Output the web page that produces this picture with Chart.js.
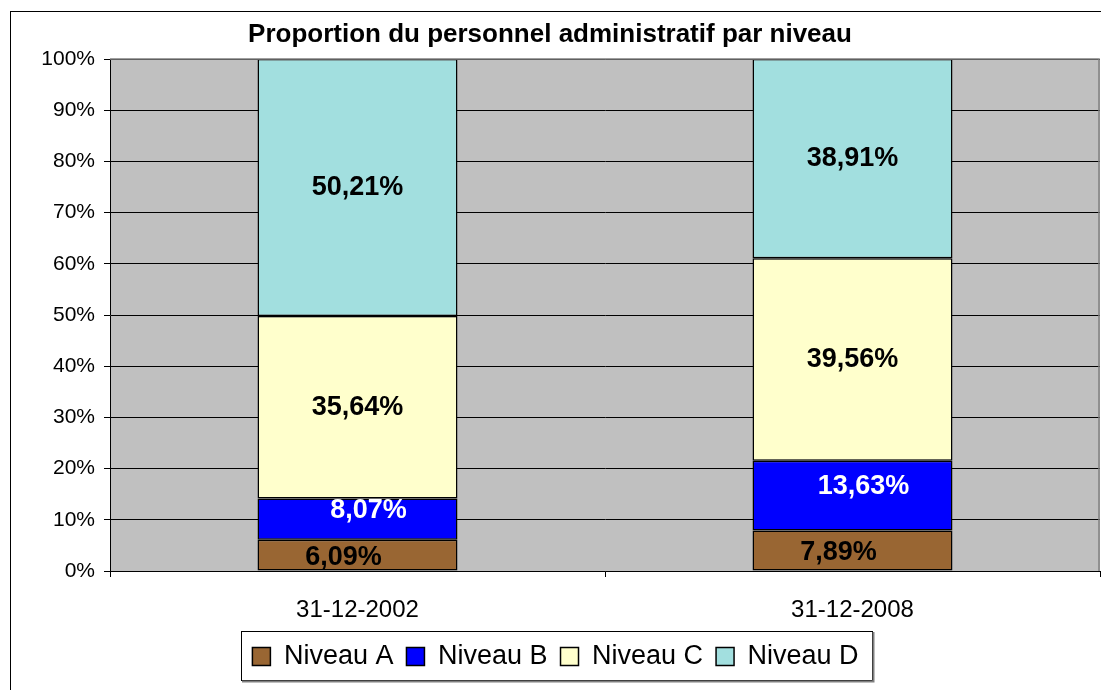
<!DOCTYPE html>
<html lang="fr">
<head>
    <meta charset="UTF-8">
    <title>Proportion du personnel administratif par niveau</title>
    <style>
        body { margin: 0; background: #fff; }
        #wrap { width: 1101px; height: 690px; }
    </style>
    <script src="https://cdn.jsdelivr.net/npm/chart.js"></script>
</head>
<body>
    <div id="wrap"><canvas id="myChart"></canvas></div>
    <script>
        // données
        const dates = ['31-12-2002', '31-12-2008'];
        const niveauA = [6.09, 7.89];
        const niveauB = [8.07, 13.63];
        const niveauC = [35.64, 39.56];
        const niveauD = [50.21, 38.91];
        const yTicks = [0, 10, 20, 30, 40, 50, 60, 70, 80, 90, 100];

        const couleurs = ['#996633', '#0000FF', '#FFFFCC', '#A2DFDF'];
        const couleursTexte = ['#000', '#fff', '#000', '#000'];
        // petit décalage des étiquettes comme dans Excel
        const decalages = [[-14, 2], [11, -9], [0, 0], [0, 0]];

        const police = 'Arial, "Liberation Sans", sans-serif';

        function fmt(v) {
            return v.toFixed(2).replace('.', ',') + '%';
        }

        const fondGris = {
            id: 'fondGris',
            afterLayout(chart) {
                // la légende est un peu décalée vers la droite dans l'original
                const lg = chart.legend;
                if (lg) { lg.left += 5.5; lg.right += 5.5; }
            },
            beforeDraw(chart) {
                const { ctx, chartArea: a } = chart;
                ctx.save();
                ctx.fillStyle = '#C0C0C0';
                ctx.fillRect(a.left, a.top, a.right - a.left, a.bottom - a.top);
                ctx.strokeStyle = '#000';
                ctx.lineWidth = 1;
                ctx.strokeRect(10.5, 11.5, chart.width + 20, chart.height + 20);
                ctx.restore();
            },
            afterDraw(chart) {
                const { ctx, chartArea: a } = chart;
                ctx.save();
                ctx.strokeStyle = '#808080';
                ctx.lineWidth = 1.5;
                ctx.beginPath();
                ctx.moveTo(a.left, a.top);
                ctx.lineTo(a.right - 1, a.top);
                ctx.lineTo(a.right - 1, a.bottom);
                ctx.stroke();

                // étiquettes de valeurs
                ctx.font = 'bold 27px ' + police;
                ctx.textAlign = 'center';
                ctx.textBaseline = 'middle';
                chart.data.datasets.forEach((ds, i) => {
                    const meta = chart.getDatasetMeta(i);
                    meta.data.forEach((bar, j) => {
                        const y = (bar.y + bar.base) / 2;
                        ctx.fillStyle = couleursTexte[i];
                        ctx.fillText(fmt(ds.data[j]), bar.x + decalages[i][0], y + decalages[i][1]);
                    });
                });

                // cadre de la légende
                const lg = chart.legend;
                if (lg && lg.lineWidths) {
                    const pad = lg.options.labels.padding;
                    const w = lg.lineWidths[0] - pad;
                    const c = (lg.left + lg.right) / 2;
                    const l = Math.round(c - w / 2 - 11);
                    const r = Math.round(c + w / 2 + 13);
                    const t = Math.round(lg.top + pad - 12);
                    const b = Math.round(lg.top + pad + 27 + 10);
                    ctx.strokeStyle = '#000';
                    ctx.lineWidth = 1;
                    ctx.strokeRect(l + 0.5, t + 0.5, r - l, b - t);
                    ctx.strokeStyle = '#808080';
                    ctx.lineWidth = 2;
                    ctx.beginPath();
                    ctx.moveTo(l + 1, b + 1.5);
                    ctx.lineTo(r + 1.5, b + 1.5);
                    ctx.lineTo(r + 1.5, t + 1);
                    ctx.stroke();
                }
                ctx.restore();
            }
        };

        const noms = ['Niveau A', 'Niveau B', 'Niveau C', 'Niveau D'];
        const series = [niveauA, niveauB, niveauC, niveauD];

        const ctx = document.getElementById('myChart').getContext('2d');
        new Chart(ctx, {
            type: 'bar',
            data: {
                labels: dates,
                datasets: series.map((s, i) => ({
                    label: noms[i],
                    data: s,
                    backgroundColor: couleurs[i],
                    borderColor: '#000',
                    borderWidth: 1.5,
                    borderSkipped: false,
                    categoryPercentage: 1,
                    barPercentage: 0.404
                }))
            },
            options: {
                responsive: true,
                maintainAspectRatio: false,
                animation: false,
                layout: { padding: { top: 8, right: 1, bottom: 10, left: 0 } },
                scales: {
                    x: {
                        stacked: true,
                        grid: {
                            offset: true,
                            drawOnChartArea: false,
                            drawTicks: true,
                            tickLength: 6,
                            color: '#000'
                        },
                        border: { color: '#000', width: 1 },
                        ticks: {
                            color: '#000',
                            padding: 19,
                            font: { family: police, size: 24 }
                        },
                        afterFit(scale) { scale.height = 59; }
                    },
                    y: {
                        stacked: true,
                        min: 0,
                        max: 100,
                        afterBuildTicks(scale) {
                            scale.ticks = yTicks.map(v => ({ value: v }));
                        },
                        grid: {
                            color: '#000',
                            lineWidth: 1,
                            tickLength: 6
                        },
                        border: { color: '#000', width: 1 },
                        ticks: {
                            color: '#000',
                            padding: 9,
                            font: { family: police, size: 21 },
                            callback: v => v + '%'
                        },
                        afterFit(scale) { scale.width = 110; }
                    }
                },
                plugins: {
                    title: {
                        display: true,
                        text: 'Proportion du personnel administratif par niveau',
                        color: '#000',
                        padding: { top: 11, bottom: 8.8 },
                        font: { family: police, size: 26, weight: 'bold' }
                    },
                    legend: {
                        position: 'bottom',
                        labels: {
                            color: '#000',
                            boxWidth: 18,
                            boxHeight: 18,
                            padding: 13,
                            font: { family: police, size: 27 }
                        }
                    },
                    tooltip: { enabled: false }
                }
            },
            plugins: [fondGris]
        });
    </script>
</body>
</html>
